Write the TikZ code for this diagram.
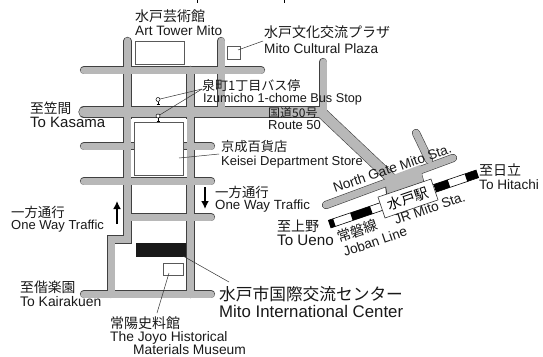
\documentclass[tikz,border=0pt]{standalone}
\usepackage{fontspec}
\setmainfont{Liberation Sans}
\newfontfamily\jp{Noto Sans CJK JP}
\definecolor{road}{gray}{0.72}
\definecolor{edge}{gray}{0.25}
\usetikzlibrary{arrows.meta}
\newcommand{\fs}[1]{\fontsize{#1}{#1}\selectfont}
\tikzset{
 x=1pt,y=-1pt,
 roadout/.style={line width=#1+1.2pt,draw=edge,line cap=round,line join=miter},
 roadin/.style={line width=#1,draw=road,line cap=round,line join=miter},
 lab/.style={anchor=base west,inner sep=0pt,font=\fs{13.6},text=black!90},
 jlab/.style={anchor=base west,inner sep=0pt,font=\jp\fs{14},text=black!90},
 leader/.style={draw=black!80,line width=0.5pt},
 bld/.style={draw=black!65,fill=white,line width=0.8pt},
 stop/.style={circle,draw=black,fill=white,line width=0.5pt,minimum size=4pt,inner sep=0pt},
 oneway/.style={-{Latex[length=8pt,width=8pt]},line width=1.6pt,draw=black},
}
\begin{document}
\begin{tikzpicture}
\useasboundingbox (0,0) rectangle (543,356);
\fill[white] (0,0) rectangle (543,356);
\draw[black,line width=0.8pt] (197,0)--(197,3);
\draw[black,line width=0.8pt] (284,0)--(284,3);
% roads: outlines then fills
\def\roads#1{
 \draw[#1=7pt] (127.5,41)--(127.5,239.5)--(111,239.5)--(111,294);
 \draw[#1=7pt] (190.5,70)--(190.5,294);
 \draw[#1=7pt] (221,41)--(221,112);
 \draw[#1=7pt] (84,70)--(261,70);
 \draw[#1=10pt] (84,112)--(322,112);
 \draw[#1=7pt] (323,62)--(323,112);
 \draw[#1=10pt] (321,112)--(395,182);
 \draw[#1=7pt] (84,146)--(211,146);
 \draw[#1=7pt] (84,181)--(211,181);
 \draw[#1=7pt] (128,217)--(211,217);
 \draw[#1=7pt] (84,294)--(211,294);
 \draw[#1=7pt] (416,133)--(429,160);
 \draw[#1=7pt] (326,205)--(453,158);
}
\roads{roadout}
\draw[edge,line width=1pt,fill=road] (385,182)--(387,196.5)--(424,183)--(420,168)--cycle;
\roads{roadin}
\fill[road] (385,178)--(388,195.5)--(423.5,182.5)--(420,165)--cycle;
% buildings
\draw[bld] (135,41.5) rectangle (184.5,64);
\draw[bld] (227,46) rectangle (240,59);
\fill[white] (131.2,119) rectangle (186.6,176.5);
\fill[road] (130,142.5) rectangle (135,149.5);
\fill[road] (183,142.5) rectangle (188,149.5);
\draw[edge,line width=0.6pt] (131,142.3)--(134.5,142.3) (131,149.7)--(134.5,149.7) (183.5,142.3)--(186.6,142.3) (183.5,149.7)--(186.6,149.7);
\draw[bld,line width=0.7pt] (134.5,122.5) rectangle (183.5,175);
\fill[black!90] (136,243) rectangle (186,257);
\draw[bld] (163,263.5) rectangle (183,275);
% railway
\begin{scope}[shift={(403.5,199)},rotate=18.8]
 \draw[draw=black,fill=white,line width=0.6pt] (-78,-4) rectangle (78,4);
 \fill[black] (-78,-4) rectangle (-73,4);
 \fill[black] (-55,-4) rectangle (-34,4);
 \fill[black] (33,-4) rectangle (48,4);
 \fill[black] (66,-4) rectangle (78,4);
\end{scope}
\node[draw=black!80,fill=white,line width=0.6pt,rotate=18.8,minimum width=56pt,minimum height=22pt,inner sep=0pt,font=\jp\fs{14}] (sta) at (408,198.5) {水戸駅};
% stops and leaders
\node[stop] (s1) at (158,99.5) {};
\node[stop] (s2) at (158,116) {};
\draw[black,line width=0.5pt] (158,101.5)--(158,104) (156.5,104)--(159.5,104);
\draw[black,line width=0.5pt] (158,118)--(158,121) (156.5,121)--(159.5,121);
\coordinate (busa) at (202,89);
\coordinate (plz) at (238,50);
\coordinate (plzl) at (263,41);
\coordinate (kei) at (179,158);
\coordinate (keil) at (219,154);
\coordinate (ctr) at (183,256);
\coordinate (ctrl) at (229,282);
\coordinate (joy) at (169,273);
\coordinate (joyl) at (157,313);
\draw[leader] (s1)--(busa);
\draw[leader] (s2)--(busa);
\draw[leader] (plz)--(plzl);
\draw[leader] (kei)--(keil);
\draw[leader] (ctr)--(ctrl);
\draw[leader] (joy)--(joyl);
% one way arrows
\coordinate (a1) at (117,224); \coordinate (a2) at (117,201);
\draw[oneway] (a1)--(a2);
\coordinate (b1) at (205,187); \coordinate (b2) at (205,209);
\draw[oneway] (b1)--(b2);
% labels
\node[jlab] (n1) at (135,21) {水戸芸術館};
\node[lab] (n2) at (135,35) {Art Tower Mito};
\node[jlab] (n3) at (264,37) {水戸文化交流プラザ};
\node[lab] (n4) at (264,53) {Mito Cultural Plaza};
\node[jlab,font=\jp\fs{13}] (n5) at (202,90) {泉町1丁目バス停};
\node[lab,font=\fs{12.7}] (n6) at (203,102) {Izumicho 1-chome Bus Stop};
\node[jlab,font=\jp\fs{13.7}] (n7) at (30,113) {至笠間};
\node[lab,font=\fs{15}] (n8) at (30,127) {To Kasama};
\node[jlab,font=\jp\fs{12}] (n9) at (268,117) {国道50号};
\node[lab,font=\fs{13}] (n10) at (268,129) {Route 50};
\node[jlab,font=\jp\fs{13.2}] (n11) at (221,151) {京成百貨店};
\node[lab,font=\fs{13}] (n12) at (221,165) {Keisei Department Store};
\node[jlab,font=\jp\fs{13.4}] (n13) at (215,197) {一方通行};
\node[lab,font=\fs{13.3}] (n14) at (215,209) {One Way Traffic};
\node[jlab,font=\jp\fs{13.4}] (n15) at (11,217) {一方通行};
\node[lab,font=\fs{13}] (n16) at (11,229) {One Way Traffic};
\node[jlab,font=\jp\fs{13.8}] (n17) at (20,292) {至偕楽園};
\node[lab,font=\fs{13.9}] (n18) at (20,306) {To Kairakuen};
\node[jlab] (n19) at (110,328) {常陽史料館};
\node[lab,font=\fs{13.8}] (n20) at (110,341) {The Joyo Historical};
\node[lab,font=\fs{13.8}] (n21) at (133,354) {Materials Museum};
\node[jlab,font=\jp\fs{16.7}] (n22) at (219,300) {水戸市国際交流センター};
\node[lab,font=\fs{16.8}] (n23) at (219,317) {Mito International Center};
\node[jlab] (n24) at (479,175) {至日立};
\node[lab] (n25) at (479,189) {To Hitachi};
\node[jlab] (n26) at (277,231) {至上野};
\node[lab,font=\fs{15.2}] (n27) at (277,245) {To Ueno};
\node[lab,rotate=19] (n28) at (335,193) {North Gate Mito Sta.};
\node[lab,rotate=19] (n29) at (396,225) {JR Mito Sta.};
\node[jlab,rotate=19] (n30) at (339,243) {常磐線};
\node[lab,rotate=19] (n31) at (345,257) {Joban Line};
\end{tikzpicture}
\end{document}
